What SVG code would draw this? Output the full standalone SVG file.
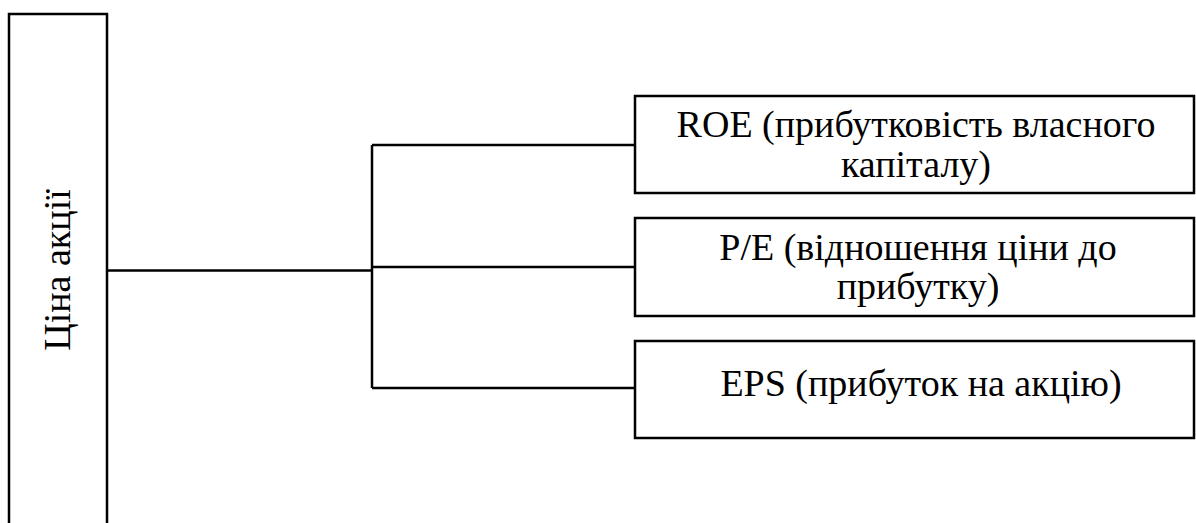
<svg xmlns="http://www.w3.org/2000/svg" width="1196" height="523" viewBox="0 0 1196 523">
  <style>
    .box { fill: #ffffff; stroke: #000000; stroke-width: 2.5; }
    .wire { fill: none; stroke: #000000; stroke-width: 2.5; }
    .lbl { font-family: "Liberation Serif", "Times New Roman", serif; font-size: 38px; fill: #000000; text-anchor: middle; }
  </style>
  <rect width="1196" height="523" fill="#ffffff"/>

  <g id="connectors">
    <path class="wire" d="M107 270.5 H372"/>
    <path class="wire" d="M372 145 V388"/>
    <path class="wire" d="M372 145 H635"/>
    <path class="wire" d="M372 267 H635"/>
    <path class="wire" d="M372 388 H635"/>
  </g>

  <g id="price">
    <rect class="box" x="9" y="14" width="98" height="520"/>
    <text class="lbl" transform="translate(70 270) rotate(-90)">Ціна акції</text>
  </g>

  <g id="roe">
    <rect class="box" x="635" y="96" width="559" height="97"/>
    <text class="lbl" x="916" y="137">ROE (прибутковість власного</text>
    <text class="lbl" x="916" y="177">капіталу)</text>
  </g>

  <g id="pe">
    <rect class="box" x="635" y="218" width="559" height="98"/>
    <text class="lbl" x="918" y="260">P/E (відношення ціни до</text>
    <text class="lbl" x="918" y="299">прибутку)</text>
  </g>

  <g id="eps">
    <rect class="box" x="635" y="341" width="559" height="97"/>
    <text class="lbl" x="921" y="396">EPS (прибуток на акцію)</text>
  </g>
</svg>
